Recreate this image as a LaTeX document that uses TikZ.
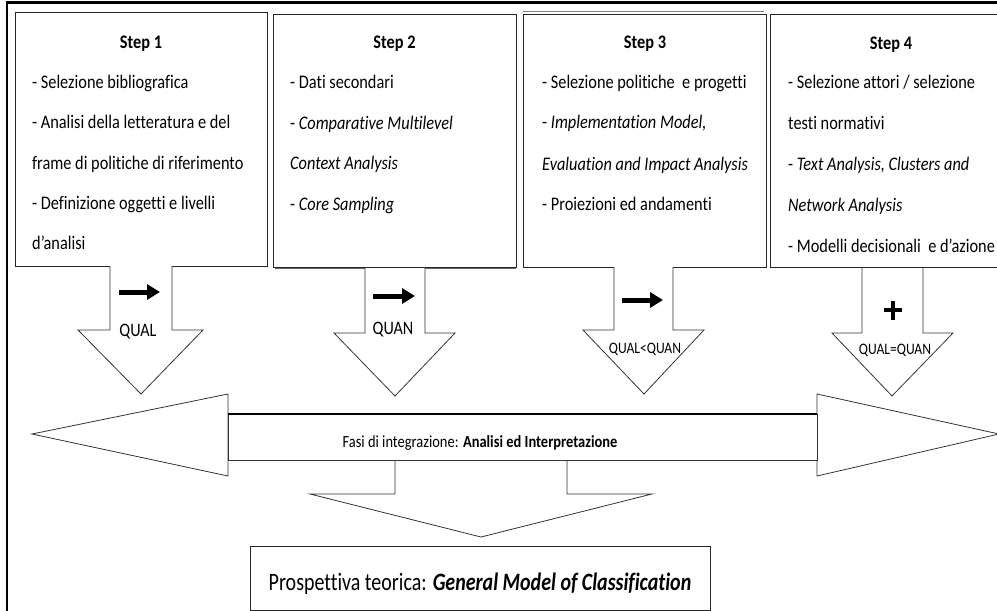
\documentclass[tikz,border=0pt]{standalone}
\usepackage{fontspec}
\setmainfont[FakeStretch=0.85, Ligatures={NoCommon}]{Carlito}
\newfontfamily\botfont[FakeStretch=0.8, Ligatures={NoCommon}]{Carlito}
\usetikzlibrary{arrows.meta}
\tikzset{
  box/.style={draw=black!85, line width=0.9pt},
  blk/.style={draw=black!80, line width=0.8pt, fill=white, line join=miter},
  ln/.style={anchor=base west, inner sep=0pt, font=\fontsize{19.2}{20}\selectfont},
  ttl/.style={anchor=base, inner sep=0pt, font=\bfseries\fontsize{19.2}{20}\selectfont},
  lab/.style={anchor=center, inner sep=0pt, font=\fontsize{19}{20}\selectfont},
  smalllab/.style={anchor=center, inner sep=0pt, font=\fontsize{16}{17}\selectfont},
  minarrow/.style={line width=5pt, -{Triangle[length=13pt,width=15pt]}},
}
\begin{document}
\begin{tikzpicture}[x=1pt, y=-1pt]
\useasboundingbox (0,0) rectangle (997,611);
\clip (0,0) rectangle (997,611);
\fill[white] (0,0) rectangle (997,611);
% outer frame
\draw[line width=2.2pt] (7,620) -- (7,2.5) -- (1005,2.5);

% step boxes
\draw[box] (15,12) rectangle (267,266);
\draw[box] (273,14) rectangle (516,267);
\draw[black!60, line width=1.5pt] (275,268.5) -- (516,268.5);
\draw[black!50, line width=1pt] (523,11) -- (764,11);
\draw[box] (523,14) rectangle (766,267);
\draw[box] (770,14) rectangle (1012,267);

% Step 1
\node[ttl] (t1) at (141,48) {Step 1};
\node[ln] (a1) at (32,88) {- Selezione bibliografica};
\node[ln] (a2) at (32,128.5) {- Analisi della letteratura e del};
\node[ln] (a3) at (32,169) {frame di politiche di riferimento};
\node[ln] (a4) at (32,209) {- Definizione oggetti e livelli};
\node[ln] (a5) at (32,249.5) {d’analisi};
% Step 2
\node[ttl] (t2) at (394.5,48) {Step 2};
\node[ln] (b1) at (290,88) {- Dati secondari};
\node[ln] (b2) at (290,129) {- \textit{Comparative Multilevel}};
\node[ln] (b3) at (290,169.5) {\textit{Context Analysis}};
\node[ln] (b4) at (290,210.5) {- \textit{Core Sampling}};
% Step 3
\node[ttl] (t3) at (645,48) {Step 3};
\node[ln] (c1) at (542,88) {- Selezione politiche\ \ e progetti};
\node[ln] (c2) at (542,128.5) {- \textit{Implementation Model,}};
\node[ln] (c3) at (542,170.5) {\textit{Evaluation and Impact Analysis}};
\node[ln] (c4) at (542,210.5) {- Proiezioni ed andamenti};
% Step 4
\node[ttl] (t4) at (891,49) {Step 4};
\node[ln] (d1) at (788,88) {- Selezione attori / selezione};
\node[ln] (d2) at (788,129) {testi normativi};
\node[ln] (d3) at (788,170.5) {- \textit{Text Analysis, Clusters and}};
\node[ln] (d4) at (788,211) {\textit{Network Analysis}};
\node[ln] (d5) at (788,252.5) {- Modelli decisionali\ \ e d’azione};

% down block arrows
\draw[blk] (110,266) -- (110,330) -- (78,330) -- (141,394) -- (203,330) -- (172,330) -- (172,266);
\draw[blk] (365,268) -- (365,333) -- (334,333) -- (395,396) -- (455,333) -- (425,333) -- (425,268);
\draw[blk] (614,267) -- (614,330) -- (583,330) -- (644,394) -- (704,330) -- (673,330) -- (673,267);
\draw[blk] (862,268) -- (862,333) -- (832,333) -- (892,396) -- (953,333) -- (923,333) -- (923,268);

% small black arrows
\draw[minarrow] (119,292) -- (160,292);
\draw[minarrow] (373,296) -- (415,296);
\draw[minarrow] (622,300) -- (663,300);
\draw[line width=3.8pt] (884,310) -- (902,310);
\draw[line width=3.8pt] (893,300.5) -- (893,319.5);

% labels
\node[lab] (q1) at (138,332) {QUAL};
\node[lab] (q2) at (393,330) {QUAN};
\node[smalllab] (q3) at (645,349) {QUAL<QUAN};
\node[smalllab] (q4) at (895,350) {QUAL=QUAN};

% bottom arrow (drawn first so the shaft line stays on top)
\draw[blk] (395,460) -- (395,494) -- (310,494) -- (481,537) -- (652,494) -- (567,494) -- (567,460);

% big double arrow
\draw[blk] (228,394) -- (32,434) -- (228,476) -- cycle;
\draw[blk] (817,394) -- (999,434) -- (817,476) -- cycle;
\draw[blk] (228,414) rectangle (817,460);
\draw[line width=2pt] (228,414) -- (817,414);
\node[anchor=base, inner sep=0pt, font=\fontsize{17}{18}\selectfont] (fasi) at (480,447)
  {Fasi di integrazione: \textbf{Analisi ed Interpretazione}};

% bottom box
\draw[box] (250,546) rectangle (710,610);
\node[anchor=base, inner sep=0pt, font=\botfont\fontsize{25}{27}\selectfont] (pt) at (480,590)
  {Prospettiva teorica: \textit{\textbf{General Model of Classification}}};
\end{tikzpicture}
\end{document}
